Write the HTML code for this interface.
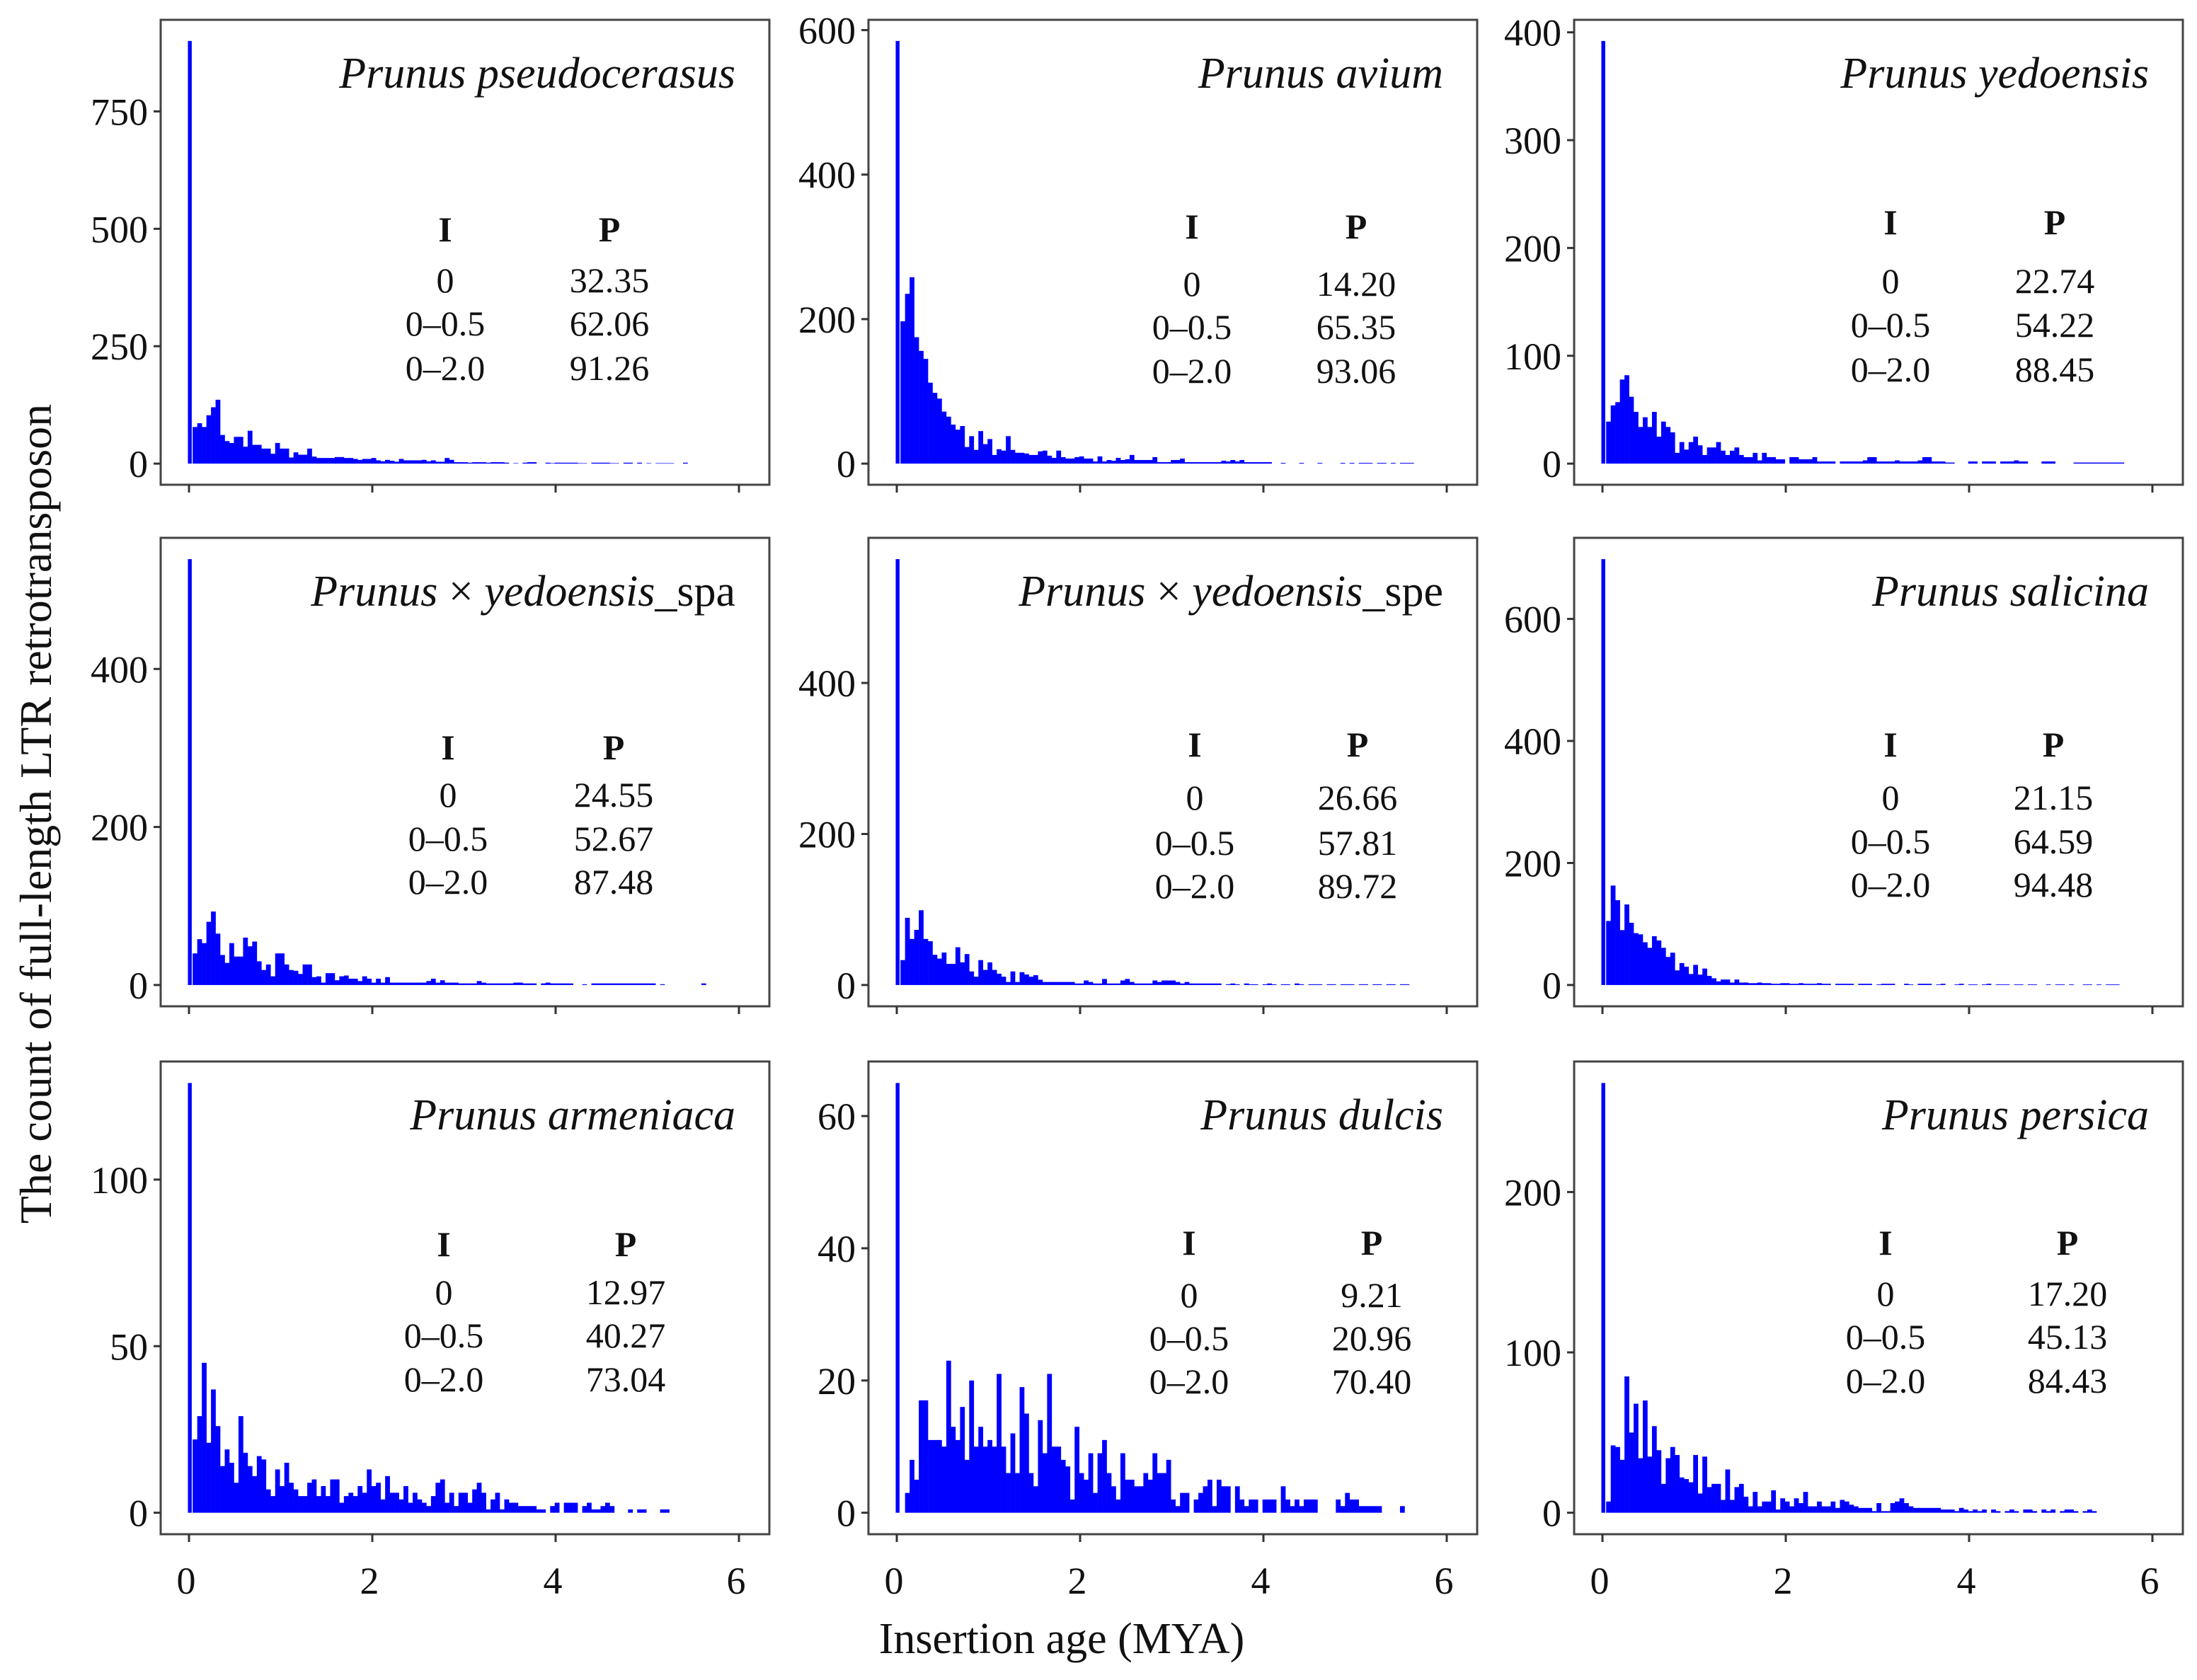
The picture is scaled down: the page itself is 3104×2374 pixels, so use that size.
<!DOCTYPE html>
<html><head><meta charset="utf-8">
<style>
html,body{margin:0;padding:0;background:#fff;}
svg{display:block;}
text{font-family:"Liberation Serif",serif;fill:#111;}
</style></head>
<body>
<svg id="chart" width="3104" height="2374" viewBox="0 0 3104 2374" xmlns="http://www.w3.org/2000/svg">
<text x="0" y="0" font-size="64" text-anchor="middle" transform="translate(72,1150) rotate(-90)">The count of full-length LTR retrotransposon</text>
<text x="1500" y="2336" font-size="62" text-anchor="middle">Insertion age (MYA)</text>
</svg>
<script>
// ---- data ----
const species = ["pseudocerasus","avium","yedoensis","spa","spe","salicina","armeniaca","dulcis","persica"];
const spikes = [900,585,392,539,564,698,129,65,268];
const yTicks1 = [0,250,500,750];
const yTicks2 = [0,200,400,600];
const yTicks3 = [0,100,200,300,400];
const yTicks4 = [0,200,400];
const yTicks5 = [0,200,400];
const yTicks6 = [0,200,400,600];
const yTicks7 = [0,50,100];
const yTicks8 = [0,20,40,60];
const yTicks9 = [0,100,200];
const xTicks = [0,2,4,6];
const binsP1 = [78,86,78,103,120,136,61,48,44,57,57,36,70,40,40,32,32,21,44,32,32,13,24,19,19,32,15,12,12,12,12,14,14,12,12,10,8,10,10,12,7,5,8,6,4,10,7,7,7,7,8,5,7,4,4,12,8,3,3,3,2,3,3,3,2,3,3,3,2,0,1,0,2,3,3,0,0,2,1,2,2,2,2,2,1,1,0,2,2,2,2,1,1,0,2,2,0,2,0,1,0,1,1,1,1,0,0,2];
const binsP2 = [197,235,258,175,156,145,112,98,90,72,65,54,47,52,23,38,19,45,27,34,12,20,18,38,19,15,15,14,12,12,17,18,11,8,18,9,7,7,9,10,7,7,3,10,3,5,4,8,5,6,12,5,5,5,5,9,2,2,2,5,5,7,2,2,2,2,2,2,2,2,4,3,5,3,5,2,2,2,2,2,2,0,0,1,0,0,0,1,0,0,0,1,0,0,0,0,1,0,1,0,1,1,1,0,1,1,0,1,0,1,1,1];
const binsP3 = [39,54,57,78,82,62,48,34,43,34,48,25,39,34,29,10,20,13,20,25,17,8,15,15,20,12,8,12,15,8,6,6,10,3,10,6,6,4,4,0,6,6,4,4,4,6,2,2,2,2,0,2,2,2,2,2,3,6,6,2,2,2,2,3,2,2,2,2,3,6,6,2,2,2,1,1,0,0,0,2,2,0,2,2,2,0,2,2,2,3,2,2,0,0,0,2,2,2,0,0,0,0,1,1,1,1,1,1,1,1,1,1,1];
const binsP4 = [40,58,53,80,93,65,38,28,53,36,36,60,49,55,30,19,26,11,40,40,26,19,18,14,26,26,10,11,3,15,15,6,11,12,8,8,5,11,8,3,8,3,10,3,3,3,3,3,3,3,3,5,8,3,6,3,3,3,2,2,2,2,5,3,2,2,2,2,2,2,3,3,2,2,2,0,2,3,2,2,2,2,2,0,0,1,0,2,2,2,2,2,2,2,2,2,2,2,2,2,2,0,1,0,0,0,0,0,0,0,0,2];
const binsP5 = [33,89,61,73,99,61,58,40,35,43,28,28,50,30,41,18,11,33,20,30,20,15,11,4,18,4,17,14,11,13,7,4,4,4,4,4,4,4,2,2,6,4,2,2,8,2,2,2,6,8,4,2,2,2,2,6,4,6,6,6,4,2,4,2,2,2,2,2,2,2,0,1,2,1,0,2,1,1,0,1,2,1,0,1,1,0,2,1,0,1,1,1,0,1,1,0,1,1,1,0,1,1,0,1,1,0,1,1,0,1,1];
const binsP6 = [105,163,139,90,132,102,85,83,70,61,80,73,61,46,53,24,36,30,18,33,17,27,15,11,6,9,9,4,9,4,4,3,3,4,3,3,2,2,3,3,2,2,3,2,2,2,3,2,2,0,2,2,2,2,0,2,2,2,0,1,2,2,2,0,0,2,1,0,2,2,2,0,1,2,0,0,1,2,0,1,1,0,1,2,0,1,1,1,0,1,1,0,1,1,0,0,1,0,1,1,0,1,0,0,1,1,0,1,0,1,1,1];
const binsP7 = [22,29,45,21,37,26,14,19,15,9,29,18,14,11,17,16,7,5,13,8,15,9,7,5,5,9,10,5,8,5,10,10,3,5,6,5,8,6,13,8,9,4,11,6,6,4,8,3,6,4,3,2,5,9,10,3,6,2,6,6,3,7,9,6,1,4,6,1,4,3,3,2,2,2,2,1,1,0,2,3,0,3,3,3,0,2,3,1,1,2,3,2,0,0,0,1,0,1,1,0,0,0,1,1];
const binsP8 = [0,3,8,5,17,17,11,11,11,10,23,13,11,16,8,20,10,13,10,11,10,21,10,6,12,6,19,15,6,4,14,9,21,10,10,8,7,2,13,6,5,9,3,9,11,6,4,2,9,5,5,4,4,6,5,9,6,6,8,2,1,3,3,0,2,3,4,5,1,5,4,4,0,4,2,1,2,2,0,2,2,2,0,4,2,1,2,1,2,2,2,0,0,0,0,2,1,3,2,2,1,1,1,1,1,0,0,0,0,1];
const binsP9 = [7,42,41,33,85,50,68,34,70,35,54,39,18,34,41,36,22,21,19,36,12,35,16,18,18,8,27,8,16,18,10,4,13,4,7,7,14,2,9,7,4,9,6,13,4,4,7,4,4,7,3,8,7,5,4,3,3,3,1,6,1,1,6,7,9,6,4,3,3,3,3,3,3,2,2,2,1,3,2,1,2,1,2,0,2,1,0,1,2,1,0,2,2,1,0,2,1,2,0,1,2,2,1,0,1,2,1];
const tableI = ["0","0–0.5","0–2.0"];
const tableP1 = ["32.35","62.06","91.26"];
const tableP2 = ["14.20","65.35","93.06"];
const tableP3 = ["22.74","54.22","88.45"];
const tableP4 = ["24.55","52.67","87.48"];
const tableP5 = ["26.66","57.81","89.72"];
const tableP6 = ["21.15","64.59","94.48"];
const tableP7 = ["12.97","40.27","73.04"];
const tableP8 = ["9.21","20.96","70.40"];
const tableP9 = ["17.20","45.13","84.43"];

// ---- layout ----
const NS = "http://www.w3.org/2000/svg";
const svg = document.getElementById("chart");
const colLeft = [227,1227,2224];
const rowTop = [28,760,1500];
const rowBottom = [685,1422,2168];
const PW = 860;
const panels = [
 {bins:binsP1,ticks:yTicks1,tab:tableP1,I:402,P:634,ty:[295,367,428,491],title:[["Prunus pseudocerasus","italic"]]},
 {bins:binsP2,ticks:yTicks2,tab:tableP2,I:457,P:689,ty:[291,372,433,495],title:[["Prunus avium","italic"]]},
 {bins:binsP3,ticks:yTicks3,tab:tableP3,I:447,P:679,ty:[285,368,430,493],title:[["Prunus yedoensis","italic"]]},
 {bins:binsP4,ticks:yTicks4,tab:tableP4,I:406,P:640,ty:[295,362,424,485],title:[["Prunus","italic"],[" × ","normal"],["yedoensis","italic"],["_spa","normal"]]},
 {bins:binsP5,ticks:yTicks5,tab:tableP5,I:461,P:691,ty:[291,366,430,491],title:[["Prunus","italic"],[" × ","normal"],["yedoensis","italic"],["_spe","normal"]]},
 {bins:binsP6,ticks:yTicks6,tab:tableP6,I:447,P:677,ty:[291,366,428,489],title:[["Prunus salicina","italic"]]},
 {bins:binsP7,ticks:yTicks7,tab:tableP7,I:400,P:657,ty:[257,325,386,448],title:[["Prunus armeniaca","italic"]]},
 {bins:binsP8,ticks:yTicks8,tab:tableP8,I:453,P:711,ty:[255,329,390,451],title:[["Prunus dulcis","italic"]]},
 {bins:binsP9,ticks:yTicks9,tab:tableP9,I:440,P:697,ty:[255,327,388,450],title:[["Prunus persica","italic"]]}
];

function mk(tag, attrs, parent){
  const e = document.createElementNS(NS, tag);
  for (const k in attrs) e.setAttribute(k, attrs[k]);
  (parent||svg).appendChild(e);
  return e;
}

panels.forEach((p, idx) => {
  const r = Math.floor(idx/3), c = idx%3;
  const L = colLeft[c], T = rowTop[r], B = rowBottom[r];
  const spike = spikes[idx];
  const yMin = -0.05*spike, yMax = 1.05*spike;
  const yS = v => B - (v - yMin)/(yMax - yMin)*(B - T);
  const xMin = -0.309, xMax = 6.332;
  const xS = v => L + (v - xMin)/(xMax - xMin)*PW;

  const g = mk("g", {});
  
  

  const bg = mk("g", {fill:"#0000ff"}, g);
  
  
  p.bins.forEach((v, i) => {
    if (v <= 0) return;
    const x0 = 0.04 + 0.05*i, x1 = x0 + 0.05;
    const rect = mk("rect", {x:xS(x0), y:yS(v), width:xS(x1)-xS(x0)+0.3, height:yS(0)-yS(v)}, bg);
    
    
  });
  const sp = mk("rect", {x:xS(-0.012), y:yS(spike), width:xS(0.03)-xS(-0.012), height:yS(0)-yS(spike), fill:"#0000ff"}, g);
  
  

  const fr = mk("rect", {x:L, y:T, width:PW, height:B-T, fill:"none", stroke:"#444", "stroke-width":3}, g);
  
  

  p.ticks.forEach(t => {
    const yy = yS(t);
    const tk = mk("line", {x1:L-10, x2:L, y1:yy, y2:yy, stroke:"#333", "stroke-width":3}, g);
    
    
    const tl = mk("text", {x:L-18, y:yy+19, "font-size":54, "text-anchor":"end"}, g);
    tl.textContent = t;
    
    
  });
  xTicks.forEach(t => {
    const xx = xS(t);
    const tk = mk("line", {x1:xx, x2:xx, y1:B, y2:B+11, stroke:"#333", "stroke-width":3}, g);
    
    
    if (r === 2) {
      const tl = mk("text", {x:xx-4, y:B+84, "font-size":54, "text-anchor":"middle"}, g);
      tl.textContent = t;
      
      
    }
  });

  const tt = mk("text", {x:L+PW-48, y:T+96, "font-size":62, "text-anchor":"end"}, g);
  
  
  p.title.forEach(([s, st]) => {
    const ts = mk("tspan", {"font-style":st}, tt);
    ts.textContent = s;
  });

  const h1 = mk("text", {x:L+p.I, y:T+p.ty[0]+18, "font-size":50, "font-weight":"bold", "text-anchor":"middle"}, g);
  h1.textContent = "I";
  
  
  const h2 = mk("text", {x:L+p.P, y:T+p.ty[0]+18, "font-size":50, "font-weight":"bold", "text-anchor":"middle"}, g);
  h2.textContent = "P";
  
  
  tableI.forEach((s, k) => {
    const a = mk("text", {x:L+p.I, y:T+p.ty[k+1]+18, "font-size":50, "text-anchor":"middle"}, g);
    a.textContent = s;
    
    
    const b = mk("text", {x:L+p.P, y:T+p.ty[k+1]+18, "font-size":50, "text-anchor":"middle"}, g);
    b.textContent = p.tab[k];
    
    
  });
});
</script>
</body></html>
